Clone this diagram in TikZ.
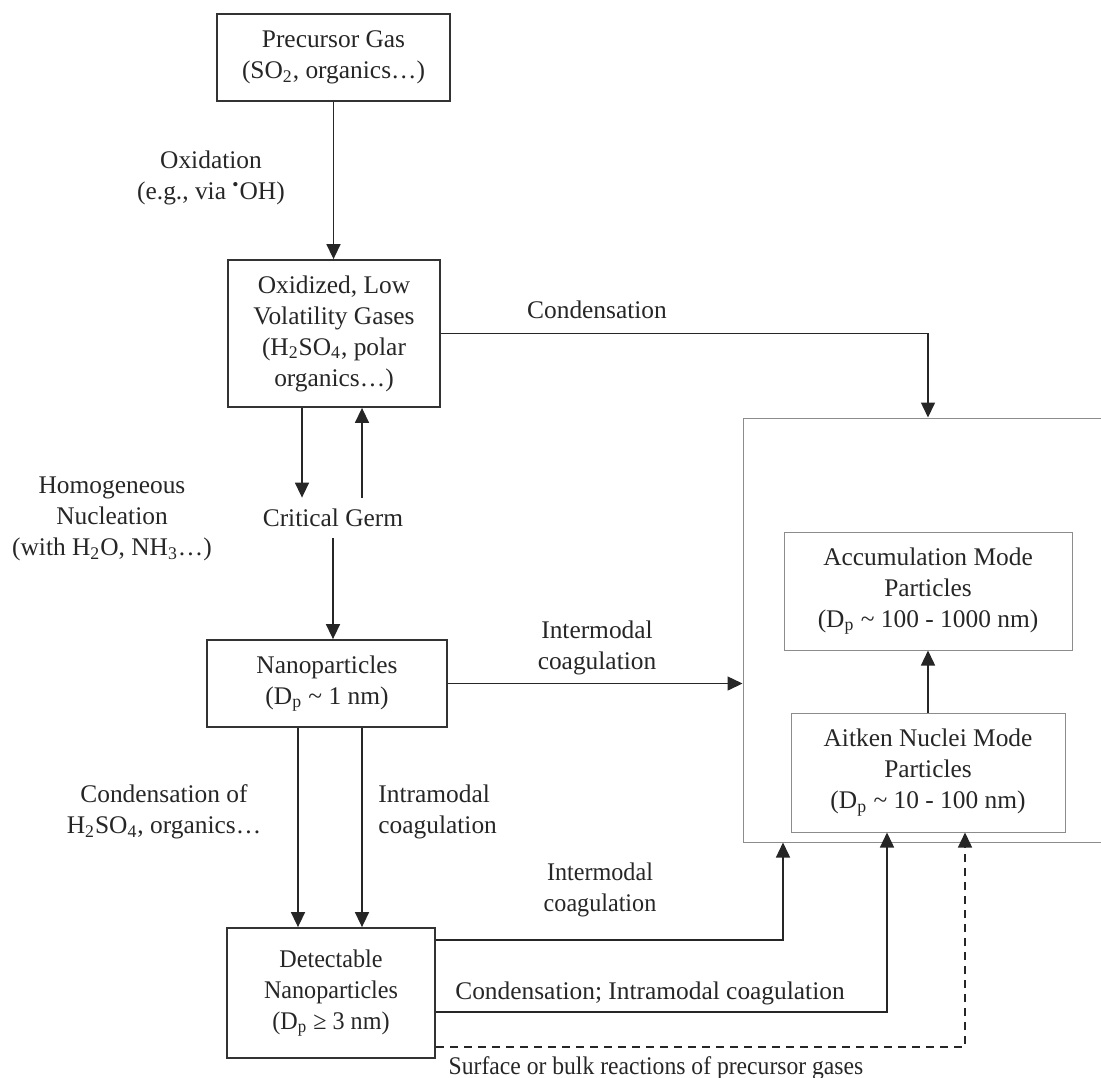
\documentclass[tikz,border=0pt]{standalone}
\usepackage{fontspec}
\setmainfont{Liberation Serif}
\usetikzlibrary{arrows.meta}
\begin{document}
\begin{tikzpicture}[x=0.5pt,y=-0.5pt,
  every node/.style={font=\fontsize{12.7}{15.5}\selectfont, text=black!85, align=center, inner sep=0pt},
  box/.style={draw=black!80, line width=0.9pt},
  graybox/.style={draw=black!45, line width=0.5pt},
  arr/.style={draw=black!85, line width=0.75pt, -{Triangle[length=7.5pt,width=7pt]}}]
\clip (0,0) rectangle (1101,1077);
\useasboundingbox (0,0) rectangle (1101,1077);
% boxes
\node[box, minimum width=116.5pt, minimum height=43.5pt] (pre) at (333.5,57.5) {Precursor Gas\\(SO\textsubscript{2}, organics…)};
\node[box, minimum width=106pt, minimum height=73.5pt] (oxi) at (334,333.5) {Oxidized, Low\\Volatility Gases\\(H\textsubscript{2}SO\textsubscript{4}, polar\\organics…)};
\node[minimum height=20pt] (germ) at (333,518) {Critical Germ};
\node[box, minimum width=120pt, minimum height=43.5pt] (nano) at (327,683.5) {Nanoparticles\\(D\textsubscript{p} \textasciitilde{} 1 nm)};
\node[box, minimum width=104pt, minimum height=65pt] (det) at (331,993) {\scalebox{0.95}[1]{Detectable}\\\scalebox{0.95}[1]{Nanoparticles}\\\scalebox{0.95}[1]{(D\textsubscript{p} ≥ 3 nm)}};
\node[graybox, minimum width=183.5pt, minimum height=212pt] (big) at (926.5,630) {};
\node[graybox, minimum width=144pt, minimum height=59pt] (acc) at (928,591) {Accumulation Mode\\Particles\\(D\textsubscript{p} \textasciitilde{} 100 - 1000 nm)};
\node[graybox, minimum width=137pt, minimum height=59.5pt] (ait) at (928,772.5) {Aitken Nuclei Mode\\Particles\\(D\textsubscript{p} \textasciitilde{} 10 - 100 nm)};
% labels
\node (lox) at (211,178) {Oxidation\\(e.g., via \textsuperscript{•}OH)};
\node (lcond) at (597,310) {Condensation};
\node (lhom) at (112,519) {Homogeneous\\Nucleation\\(with H\textsubscript{2}O, NH\textsubscript{3}…)};
\node (linter1) at (597,648) {Intermodal\\coagulation};
\node (lcondof) at (164,812) {Condensation of\\H\textsubscript{2}SO\textsubscript{4}, organics…};
\node[anchor=west, align=left] (lintra) at (378,812) {Intramodal\\coagulation};
\node (linter2) at (600,890) {\scalebox{0.95}[1]{Intermodal}\\\scalebox{0.95}[1]{coagulation}};
\node (lci) at (650,993) {Condensation; Intramodal coagulation};
\node (lsurf) at (656,1068) {\scalebox{0.93}[1]{Surface or bulk reactions of precursor gases}};
% connectors
\draw[arr] (pre.south) -- (pre.south |- oxi.north);
\draw[arr] (oxi.east) -| (big.north -| acc.north);
\draw[arr] ([xshift=-16pt]oxi.south) -- ([xshift=-16pt]oxi.south |- germ.north);
\draw[arr] ([xshift=14pt]oxi.south |- germ.north) -- ([xshift=14pt]oxi.south);
\draw[arr] (germ.south) -- (germ.south |- nano.north);
\draw[arr] (nano.east) -- (nano.east -| big.west);
\draw[arr] ([xshift=-14.5pt]nano.south) -- ([xshift=-14.5pt]nano.south |- det.north);
\draw[arr] ([xshift=17.5pt]nano.south) -- ([xshift=17.5pt]nano.south |- det.north);
\draw[arr] ([yshift=26.5pt]det.east) -| ([xshift=-71.75pt]big.south);
\draw[arr] ([yshift=-9.5pt]det.east) -| ([xshift=-20.5pt]ait.south);
\draw[arr, dash pattern=on 4pt off 3pt] ([yshift=-27pt]det.east) -| ([xshift=18.5pt]ait.south);
\draw[arr] (ait.north) -- (acc.south);
\end{tikzpicture}
\end{document}
